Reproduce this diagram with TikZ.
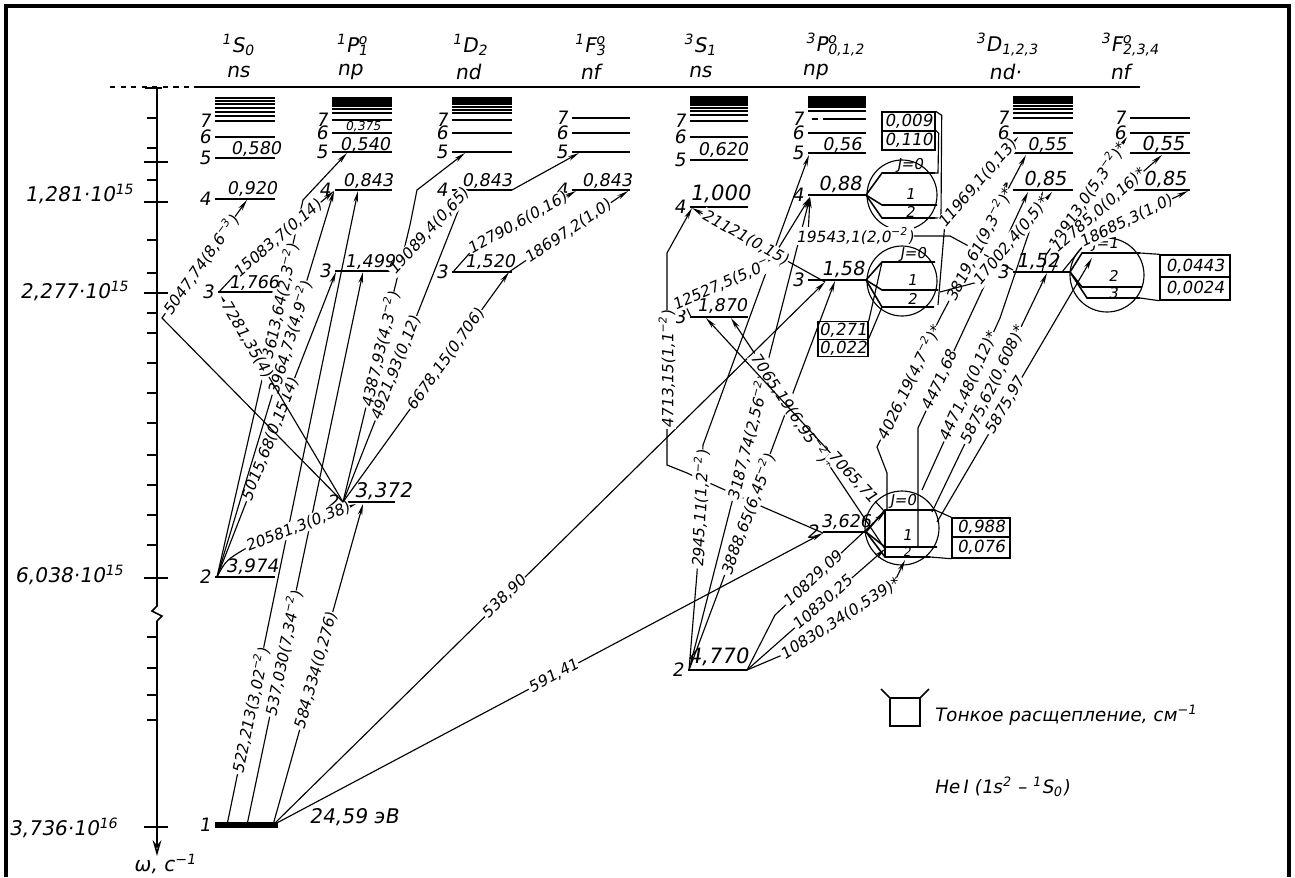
\documentclass[tikz,border=0pt]{standalone}
\usepackage{fontspec}
\setmainfont{DejaVu Sans}[FakeSlant=0.17]
\usetikzlibrary{arrows.meta}
\newcommand{\tsup}[1]{\textsuperscript{#1}}
\newcommand{\term}[4]{\tsup{#1}#2\rlap{\tsup{#4}}\textsubscript{#3}}
\newcommand{\Lev}[4]{\draw[lev] (#1,#3) -- (#2,#3); \node[num] at ({#1-4},#3) {#4};}
\begin{document}
\begin{tikzpicture}[x=0.02cm,y=-0.02cm,
  lev/.style={line width=0.9pt},
  tr/.style={line width=0.65pt},
  arr/.style={tr,-{Stealth[length=6.5pt,width=2.6pt]}},
  lab/.style={font=\fontsize{8.8}{9}\selectfont, fill=white, inner sep=0.5pt, sloped},
  val/.style={font=\fontsize{10}{11}\selectfont, inner sep=0pt},
  num/.style={font=\fontsize{10.5}{11}\selectfont, inner sep=0pt, anchor=east},
  hdr/.style={font=\fontsize{11.5}{13}\selectfont},
  ax/.style={font=\fontsize{11.5}{13}\selectfont, anchor=east},
  jl/.style={font=\fontsize{8.5}{9}\selectfont, inner sep=0pt},
  fbox/.style={draw, line width=0.8pt, inner sep=0pt, font=\fontsize{9.5}{10}\selectfont}
]
\useasboundingbox (0,0) rectangle (1295,877);
% frame
\draw[line width=2.2pt] (6,877) -- (6,6) -- (1289,6) -- (1289,877);
% top line
\draw[lev,dashed] (110,87) -- (200,87);
\draw[lev] (200,87) -- (1140,87);
% axis
\draw[line width=0.9pt] (157,87) -- (157,606) -- (152,611) -- (162,616) -- (157,621);
\draw[line width=0.9pt,-{Stealth[length=9pt,width=5pt,open]}] (157,621) -- (157,856);
\foreach \y in {118,148,180,240,273,313,333,363,393,423,455,485,515,545,637,668,695,720}
  \draw[lev] (147,\y) -- (157,\y);
\foreach \y in {162,202,293,578,827}
  \draw[line width=1.2pt] (144,\y) -- (168,\y);
\draw[lev] (145,88) -- (162,88);
\node[ax] (a1) at (140,194) {1,281·10\tsup{15}};
\node[ax] (a2) at (135,291) {2,277·10\tsup{15}};
\node[ax] (a3) at (130,575) {6,038·10\tsup{15}};
\node[ax] (a4) at (124,828) {3,736·10\tsup{16}};
\node[hdr] (om) at (165,864) {ω, с\tsup{−1}};

% headers
\node[hdr] (h1) at (238,45) {\term{1}{S}{0}{}};
\node[hdr] (h2) at (352,45) {\term{1}{P}{1}{o}};
\node[hdr] (h3) at (470,45) {\term{1}{D}{2}{}};
\node[hdr] (h4) at (590,45) {\term{1}{F}{3}{o}};
\node[hdr] (h5) at (700,45) {\term{3}{S}{1}{}};
\node[hdr] (h6) at (835,45) {\term{3}{P}{0,1,2}{o}};
\node[hdr] (h7) at (1007,45) {\term{3}{D}{1,2,3}{}};
\node[hdr] (h8) at (1130,45) {\term{3}{F}{2,3,4}{o}};
\node[hdr] (n1) at (238,72) {ns};
\node[hdr] (n2) at (350,72) {np};
\node[hdr] (n3) at (468,72) {nd};
\node[hdr] (n4) at (590,72) {nf};
\node[hdr] (n5) at (700,72) {ns};
\node[hdr] (n6) at (815,72) {np};
\node[hdr] (n7) at (1005,72) {nd·};
\node[hdr] (n8) at (1120,72) {nf};

% ---------- singlet levels
\foreach \y in {98,101,104,108,112,116} \draw[lev] (215,\y) -- (275,\y);
\Lev{215}{275}{121}{7}
\Lev{215}{275}{137}{6}
\Lev{215}{275}{158}{5}
\Lev{215}{275}{199}{4}
\Lev{218}{275}{292}{3}
\Lev{215}{275}{577}{2}
\draw[line width=3pt] (215,825) -- (278,825);
\node[num] (g1) at (211,825) {1};
\node[hdr,anchor=west] (ev) at (303,817) {24,59 эВ};

\foreach \y in {98,100,102,104,106,109,113} \draw[line width=1.2pt] (332,\y) -- (392,\y);
\Lev{332}{392}{120}{7}
\Lev{332}{392}{133}{6}
\Lev{332}{392}{152}{5}
\Lev{335}{392}{190}{4}
\Lev{335}{392}{271}{3}
\Lev{343}{395}{502}{2}

\foreach \y in {98,100,102,104,107,110,113} \draw[line width=1.1pt] (452,\y) -- (512,\y);
\Lev{452}{512}{120}{7}
\Lev{452}{512}{133}{6}
\Lev{452}{512}{152}{5}
\Lev{452}{512}{190}{4}
\Lev{452}{512}{272}{3}

\Lev{572}{630}{118}{7}
\Lev{572}{630}{133}{6}
\Lev{572}{630}{152}{5}
\Lev{572}{630}{190}{4}

% ---------- triplet levels
\foreach \y in {97,99,101,103,105,108,111,115} \draw[line width=1.2pt] (690,\y) -- (748,\y);
\Lev{690}{748}{121}{7}
\Lev{690}{748}{137}{6}
\Lev{690}{748}{160}{5}
\Lev{690}{748}{207}{4}
\Lev{690}{748}{317}{3}
\Lev{688}{747}{670}{2}

\fill (808,96) rectangle (866,108);
\draw[line width=1.1pt] (808,111) -- (866,111);
\draw[lev] (812,119) -- (818,119);
\draw[lev] (823,119) -- (866,119);
\node[num] at (804,119) {7};
\Lev{808}{866}{133}{6}
\Lev{808}{866}{153}{5}
\Lev{808}{866}{195}{4}
\Lev{808}{866}{280}{3}
\Lev{823}{866}{532}{2}

\foreach \y in {97,99,101,103,106,109,113} \draw[line width=1.2pt] (1013,\y) -- (1073,\y);
\Lev{1013}{1073}{118}{7}
\Lev{1013}{1073}{133}{6}
\Lev{1013}{1073}{153}{5}
\Lev{1013}{1073}{190}{4}
\Lev{1013}{1070}{272}{3}

\Lev{1130}{1190}{118}{7}
\Lev{1130}{1190}{133}{6}
\Lev{1130}{1190}{153}{5}
\Lev{1130}{1190}{190}{4}

% ---------- fine-structure circles
\draw[tr] (902,195) circle[radius=0.7cm];
\draw[lev] (866,195) -- (882,173) -- (935,173);
\draw[lev] (866,195) -- (882,205) -- (937,205);
\draw[lev] (866,195) -- (882,218) -- (935,218);
\node[jl] (j1) at (910,165) {J=0};
\node[jl] (j2) at (910,194) {1};
\node[jl] (j3) at (910,212) {2};
\node[fbox,minimum width=1.06cm,minimum height=0.38cm] (b009) at (908.5,121.5) {0,009};
\node[fbox,minimum width=1.06cm,minimum height=0.38cm] (b110) at (908.5,140.5) {0,110};
\draw[tr] (b009.north east) -- ++(6,4) -- (941,218) -- (935,218);
\draw[tr] (b110.north east) -- ++(3,3) -- (938,173) -- (935,173);

\draw[tr] (902,281) circle[radius=0.7cm];
\draw[lev] (866,280) -- (882,262) -- (935,262);
\draw[lev] (866,280) -- (882,290) -- (938,290);
\draw[lev] (866,280) -- (882,307) -- (934,307);
\node[jl] (j4) at (913,254) {J=0};
\node[jl] (j5) at (912,280) {1};
\node[jl] (j6) at (912,299) {2};
\node[fbox,minimum width=1.0cm,minimum height=0.35cm] (b271) at (843,330.5) {0,271};
\node[fbox,minimum width=1.0cm,minimum height=0.35cm] (b022) at (843,348) {0,022};
\draw[tr] (b271.north east) -- (882,262);
\draw[tr] (b022.north east) -- (882,307);

\draw[tr] (902,528) circle[radius=0.74cm];
\draw[lev] (866,532) -- (885,510) -- (935,510);
\draw[lev] (866,532) -- (885,547) -- (937,547);
\draw[lev] (866,532) -- (885,557) -- (930,557);
\draw[tr] (885,510) -- (885,557);
\node[jl] (j7) at (903,501) {J=0};
\node[jl] (j8) at (907,535) {1};
\node[jl,font=\fontsize{7}{8}\selectfont] (j9) at (907,552) {2};
\node[fbox,minimum width=1.16cm,minimum height=0.38cm] (b988) at (981,527.5) {0,988};
\node[fbox,minimum width=1.16cm,minimum height=0.42cm] (b076) at (981,547.5) {0,076};
\draw[tr] (935,510) -- (b988.north west);
\draw[tr] (930,557) -- (b076.south west);

\draw[tr] (1107,275) circle[radius=0.74cm];
\draw[lev] (1070,272) -- (1082,253) -- (1140,253);
\draw[lev] (1070,272) -- (1082,287) -- (1142,287);
\draw[lev] (1070,272) -- (1087,298) -- (1140,298);
\node[jl] (j10) at (1105,245) {J=1};
\node[jl] (j11) at (1113,276) {2};
\node[jl] (j12) at (1113,293) {3};
\node[fbox,minimum width=1.4cm,minimum height=0.44cm] (b0443) at (1195,266) {0,0443};
\node[fbox,minimum width=1.4cm,minimum height=0.46cm] (b0024) at (1195,288.5) {0,0024};
\draw[tr] (1140,253) -- (b0443.north west);
\draw[tr] (1140,298) -- (b0024.south west);

% ---------- singlet transitions
\coordinate (G1) at (227,825); \coordinate (G2) at (247,825); \coordinate (G3) at (273,825);
\coordinate (S2L) at (217,577); \coordinate (S3L) at (219,292); \coordinate (S4a) at (247,200);
\coordinate (P2L) at (343,502); \coordinate (P2a) at (356,504); \coordinate (P2b) at (363,504);
\coordinate (P3a) at (336,272); \coordinate (P3b) at (363,272); \coordinate (P3R) at (392,272);
\coordinate (P4a) at (334,191); \coordinate (P4b) at (358,191); \coordinate (P5a) at (347,153);
\coordinate (D3L) at (453,272); \coordinate (D3R) at (509,272); \coordinate (D4a) at (466,191);
\coordinate (D5a) at (465,153); \coordinate (D4R) at (512,190);
\coordinate (F4a) at (576,191); \coordinate (F4R) at (628,191); \coordinate (F5a) at (579,153);

\draw[arr] (G1) -- node[lab,pos=.18]{522,213(3,02\tsup{−2})} (P4b);
\draw[arr] (G2) -- node[lab,pos=.31]{537,030(7,34\tsup{−2})} (P3b);
\draw[arr] (G3) -- node[lab,pos=.48]{584,334(0,276)} (P2b);
\draw[arr] (S2L) .. controls (226,560) .. (250,546) -- node[lab,pos=.45]{20581,3(0,38)} (P2a);
\draw[arr] (S2L) -- node[lab,pos=.45]{5015,68(0,1514)} (P3a);
\draw[arr] (S2L) -- node[lab,pos=.62]{3964,73(4,9\tsup{−2})} (P4a);
\draw[arr] (S2L) -- node[lab,pos=.73]{3613,64(2,3\tsup{−2})} (303,200) -- (P5a);
\draw[arr] (S3L) -- (232,278) -- node[lab,pos=.45]{15083,7(0,14)} (P4a);
\draw[arr] (P2L) -- node[lab,pos=.79]{7281,35(4)} (221,296);
\draw[arr] (P2L) -- (162,318) -- node[lab,pos=.45]{5047,74(8,6\tsup{−3})} (S4a);
\draw[arr] (P2L) -- node[lab,pos=.55]{4387,93(4,3\tsup{−2})} (410,225) -- (417,190) -- (D5a);
\draw[arr] (P2L) -- node[lab,pos=.43]{4921,93(0,12)} (D4a);
\draw[arr] (P2L) -- node[lab,pos=.62]{6678,15(0,706)} (D3R);
\draw[arr] (P3R) -- node[lab,pos=.5]{19089,4(0,65)} (D4a);
\draw[arr] (D3L) -- (475,247) -- node[lab,pos=.42]{12790,6(0,16)} (F4a);
\draw[arr] (D3R) -- node[lab,pos=.5]{18697,2(1,0)} (F4R);
\draw[arr] (D4R) -- (F5a);

% ---------- intercombination
\coordinate (P3T) at (825,282); \coordinate (P2T) at (823,533);
\draw[arr] (G3) -- node[lab,pos=.42]{538,90} (P3T);
\draw[arr] (G3) -- node[lab,pos=.51]{591,41} (P2T);

% ---------- triplet transitions
\coordinate (T2L) at (689,670); \coordinate (T2R) at (747,670);
\coordinate (T3L) at (691,317); \coordinate (T3a) at (706,318); \coordinate (T3b) at (731,318);
\coordinate (T4L) at (692,208);
\coordinate (Q5L) at (809,155); \coordinate (Q4L) at (810,197); \coordinate (Q3L) at (835,281);
\coordinate (C2a) at (885,512); \coordinate (C2b) at (885,549); \coordinate (C2c) at (905,560);

\draw[arr] (P2T) -- (763,507) -- (687,473) -- (667,465) -- node[lab,pos=.45]{4713,15(1,1\tsup{−2})} (667,253) -- (T4L);
\draw[arr] (T2L) -- (697,573) -- node[lab,pos=.5]{2945,11(1,2\tsup{−2})} (703,445) -- (Q5L);
\draw[arr] (T2L) -- node[lab,pos=.49]{3187,74(2,56\tsup{−2})} (Q4L);
\draw[arr] (T2L) -- node[lab,pos=.40]{3888,65(6,45\tsup{−2})} (Q3L);
\draw[arr] (T2R) -- (775,615) -- node[lab,pos=.35]{10829,09} (C2a);
\draw[arr] (T2R) -- (790,632) -- node[lab,pos=.35]{10830,25} (C2b);
\draw[arr] (T2R) -- (787,653) -- node[lab,pos=.5]{10830,34(0,539)*} (893,585) -- (C2c);
\draw[arr] (C2b) -- node[lab,pos=.6]{7065,19(6,95\tsup{−2})*} (T3b);
\draw[arr] (C2a) -- node[lab,pos=.18]{7065,71} (T3a);
\draw[arr] (T3L) -- (683,300) -- node[lab,pos=.5]{12527,5(5,0\tsup{−2})} (770,262) -- (Q4L);
\draw[arr] (P3T) -- node[lab,pos=.6]{21121(0,15)} (T4L);
\draw[arr] (1013,270) -- (950,236) -- node[lab,pos=.67]{19543,1(2,0\tsup{−2})} (808,236) -- (Q4L);

\draw[tr] (887,510) -- (887,473) -- (877,447) -- node[lab,pos=.5]{4026,19(4,7\tsup{−2})*} (940,318);
\draw[arr] (940,318) -- node[lab,pos=.45]{3819,61(9,3\tsup{−2})*} (1026,155);
\draw[arr] (938,305) -- (945,222) -- node[lab,pos=.45]{11969,1(0,13)} (1018,137);
\draw[arr] (918,547) -- (918,428) -- node[lab,pos=.2]{4471,68} (1028,192);
\draw[arr] (922,490) -- node[lab,pos=.6]{4471,48(0,12)*} (1000,318) -- (1043,191);
\draw[arr] (932,512) -- node[lab,pos=.53]{5875,62(0,608)*} (1047,273);
\draw[arr] (937,522) -- node[lab,pos=.44]{5875,97} (1092,258);
\draw[arr] (940,292) -- (978,282) -- node[lab,pos=.45]{17002,4(0,5)*} (1052,192);
\draw[arr] (1042,272) -- (1046,255) -- node[lab,pos=.5]{10913,0(5,3\tsup{−2})*} (1127,137);
\draw[arr] (1052,272) -- (1066,240) -- node[lab,pos=.34]{12785,0(0,16)*} (1162,155);
\draw[arr] (1062,272) -- (1088,240) -- node[lab,pos=.38]{18685,3(1,0)} (1188,191);

% ---------- level values (drawn last, on top)
\node[val] (v1) at (256,149) {0,580};
\node[val] (v2) at (252,189) {0,920};
\node[val] (v3) at (254,283) {1,766};
\node[val,font=\fontsize{10.5}{11}\selectfont] (v4) at (252,567) {3,974};
\node[val,font=\fontsize{7}{8}\selectfont] (v5) at (363,127) {0,375};
\node[val] (v6) at (365,145) {0,540};
\node[val] (v7) at (368,181) {0,843};
\node[val] (v8) at (370,262) {1,499};
\node[val,font=\fontsize{11.5}{12}\selectfont] (v9) at (383,491) {3,372};
\node[val] (v10) at (487,181) {0,843};
\node[val] (v11) at (490,262) {1,520};
\node[val] (v12) at (607,181) {0,843};
\node[val] (v13) at (723,150) {0,620};
\node[val,font=\fontsize{12}{13}\selectfont] (v14) at (720,194) {1,000};
\node[val] (v15) at (722,306) {1,870};
\node[val,font=\fontsize{12}{13}\selectfont] (v16) at (718,657) {4,770};
\node[val] (v17) at (842,145) {0,56};
\node[val,font=\fontsize{11}{12}\selectfont] (v18) at (840,184) {0,88};
\node[val,font=\fontsize{11}{12}\selectfont] (v19) at (843,269) {1,58};
\node[val] (v20) at (846,522) {3,626};
\node[val] (v21) at (1047,145) {0,55};
\node[val,font=\fontsize{11}{12}\selectfont] (v22) at (1045,179) {0,85};
\node[val,font=\fontsize{11}{12}\selectfont] (v23) at (1038,261) {1,52};
\node[val,font=\fontsize{11}{12}\selectfont] (v24) at (1163,144) {0,55};
\node[val,font=\fontsize{11}{12}\selectfont] (v25) at (1165,179) {0,85};

% ---------- legend
\draw[lev] (890,698) rectangle (920,726);
\draw[lev] (890,698) -- (881,689);
\draw[lev] (920,698) -- (929,689);
\node[anchor=west,font=\fontsize{10.5}{11}\selectfont] (lg1) at (928,715) {Тонкое расщепление, см\tsup{−1}};
\node[anchor=west,font=\fontsize{10.5}{11}\selectfont] (lg2) at (928,787) {He\,I (1s\tsup{2} – \tsup{1}S\textsubscript{0})};
\end{tikzpicture}
\end{document}
